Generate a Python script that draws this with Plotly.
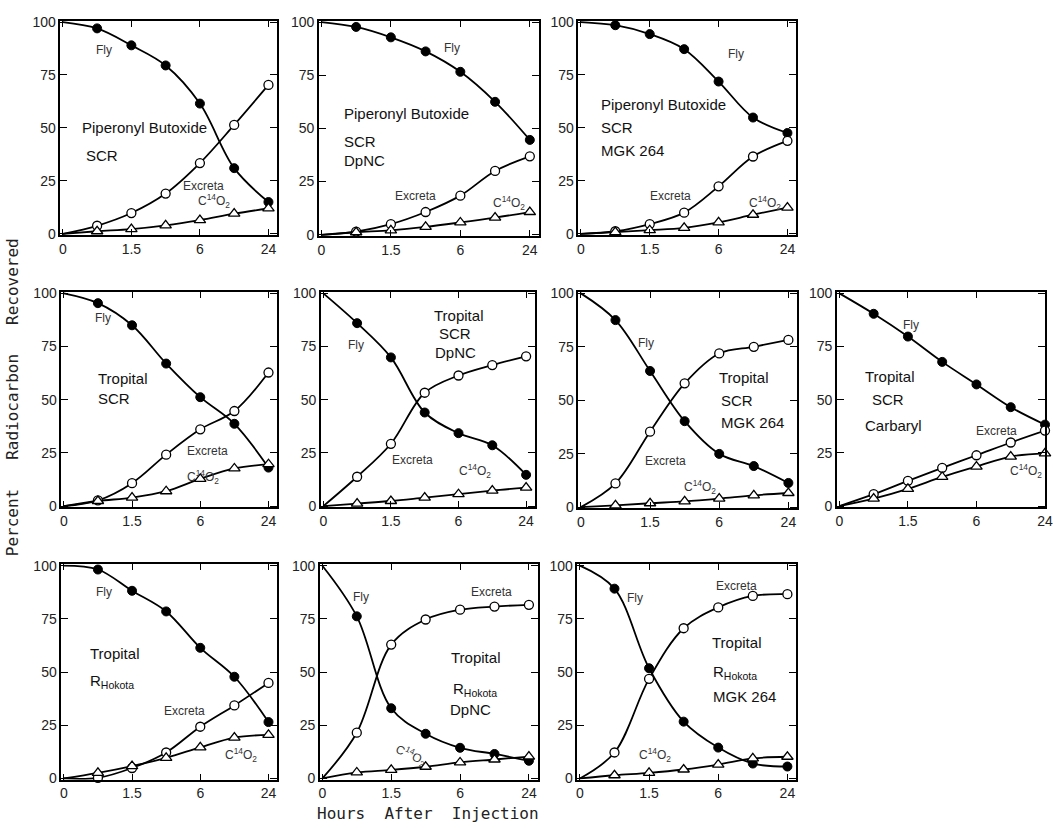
import plotly.graph_objects as go

# ---------------- data ----------------
hours = ["0", "0.75", "1.5", "3", "6", "12", "24"]
hour_tickvals = ["0", "1.5", "6", "24"]
hour_ticktext = ["0", "1.5", "6", "24"]
y_ticks = [0, 25, 50, 75, 100]

# Piperonyl Butoxide / SCR
fly_pb_scr = [100, 97, 89, 79.5, 61.5, 31, 15]
exc_pb_scr = [0, 3.8, 9.8, 19, 33.4, 51.4, 70.3]
co2_pb_scr = [0, 1.2, 2.2, 4, 6.5, 9.5, 12]
# Piperonyl Butoxide / SCR / DpNC
fly_pb_dpnc = [100, 97.7, 92.8, 86.2, 76.6, 62.5, 44.6]
exc_pb_dpnc = [0, 1.5, 5, 10.7, 18.4, 30, 36.9]
co2_pb_dpnc = [0, 1.2, 2.1, 3.7, 5.8, 8.1, 10.7]
# Piperonyl Butoxide / SCR / MGK 264
fly_pb_mgk = [100, 98.5, 94.3, 87.2, 71.9, 54.9, 47.6]
exc_pb_mgk = [0, 1.2, 4.6, 10, 22.4, 36.5, 43.9]
co2_pb_mgk = [0, 0.8, 1.7, 2.8, 5.4, 9, 12.4]
# Tropital / SCR
fly_tr_scr = [100, 95.4, 85, 67, 51.2, 38.7, 18.1]
exc_tr_scr = [0, 2.7, 10.8, 24.2, 36.1, 44.7, 62.8]
co2_tr_scr = [0, 2.4, 4, 7, 12.8, 17.7, 19.7]
# Tropital / SCR / DpNC
fly_tr_dpnc = [100, 86, 69.9, 44, 34.3, 28.6, 14.7]
exc_tr_dpnc = [0, 13.8, 29.3, 53.3, 61.4, 66.3, 70.4]
co2_tr_dpnc = [0, 1.2, 2.4, 4, 5.6, 7.3, 8.7]
# Tropital / SCR / MGK 264
fly_tr_mgk = [100, 87.5, 63.7, 40.2, 24.9, 19.2, 11.3]
exc_tr_mgk = [0, 11.1, 35.3, 57.9, 71.9, 75, 78.2]
co2_tr_mgk = [0, 0.8, 1.8, 2.7, 4, 5.5, 6.6]
# Tropital / SCR / Carbaryl
fly_tr_carb = [100, 90.4, 79.7, 67.8, 57.2, 46.5, 38.3]
exc_tr_carb = [0, 5.6, 11.9, 18, 23.9, 29.9, 35.5]
co2_tr_carb = [0, 3.5, 8.1, 13.7, 18.6, 23.3, 24.8]
# Tropital / R Hokota
fly_rh = [100, 98.2, 88.2, 78.5, 61.4, 47.8, 26.5]
exc_rh = [0, 0.3, 4.9, 12.2, 24.3, 34.3, 44.9]
co2_rh = [0, 2.6, 5.8, 9.7, 14.6, 19.2, 20.5]
# Tropital / R Hokota / DpNC
fly_rh_dpnc = [100, 76.2, 33, 21, 14.4, 11.5, 8.3]
exc_rh_dpnc = [0, 21.5, 62.9, 74.7, 79.3, 80.8, 81.6]
co2_rh_dpnc = [0, 2.8, 4, 5.5, 7.5, 8.9, 10.3]
# Tropital / R Hokota / MGK 264
fly_rh_mgk = [100, 89.2, 51.8, 26.7, 14.5, 7, 5.6]
exc_rh_mgk = [0, 12.2, 46.8, 70.6, 80.4, 85.8, 86.6]
co2_rh_mgk = [0, 1.5, 2.6, 4.2, 6.5, 9.4, 10.2]

series = [
    (fly_pb_scr, exc_pb_scr, co2_pb_scr),
    (fly_pb_dpnc, exc_pb_dpnc, co2_pb_dpnc),
    (fly_pb_mgk, exc_pb_mgk, co2_pb_mgk),
    (fly_tr_scr, exc_tr_scr, co2_tr_scr),
    (fly_tr_dpnc, exc_tr_dpnc, co2_tr_dpnc),
    (fly_tr_mgk, exc_tr_mgk, co2_tr_mgk),
    (fly_tr_carb, exc_tr_carb, co2_tr_carb),
    (fly_rh, exc_rh, co2_rh),
    (fly_rh_dpnc, exc_rh_dpnc, co2_rh_dpnc),
    (fly_rh_mgk, exc_rh_mgk, co2_rh_mgk),
]

CO2 = "C<sup>14</sup>O<sub>2</sub>"
RH = "R<sub>Hokota</sub>"
# labels: (text, x index, y value, kind, anchor, angle)
labels = [
    [("Fly", 1.2, 87, "s", "center", 0), ("Piperonyl Butoxide", 0.5, 50, "b", "left", 0),
     ("SCR", 0.63, 37, "b", "left", 0), ("Excreta", 4.1, 22.6, "s", "center", 0),
     (CO2, 4.4, 15.4, "s", "center", 0)],
    [("Fly", 3.76, 87.7, "s", "center", 0), ("Piperonyl Butoxide", 0.59, 57, "b", "left", 0),
     ("SCR", 0.59, 44, "b", "left", 0), ("DpNC", 0.59, 35, "b", "left", 0),
     ("Excreta", 2.7, 18, "s", "center", 0), (CO2, 5.4, 15, "s", "center", 0)],
    [("Fly", 4.5, 85, "s", "center", 0), ("Piperonyl Butoxide", 0.54, 61, "b", "left", 0),
     ("SCR", 0.54, 50, "b", "left", 0), ("MGK 264", 0.54, 39.4, "b", "left", 0),
     ("Excreta", 2.6, 17.8, "s", "center", 0), (CO2, 5.35, 14.7, "s", "center", 0)],
    [("Fly", 1.14, 88.6, "s", "center", 0), ("Tropital", 0.95, 60, "b", "left", 0),
     ("SCR", 0.95, 50.5, "b", "left", 0), ("Excreta", 4.2, 26, "s", "center", 0),
     (CO2, 4.08, 13.9, "s", "center", 0)],
    [("Fly", 0.97, 75.7, "s", "center", 0), ("Tropital", 4.0, 89.4, "b", "center", 0),
     ("SCR", 3.9, 81, "b", "center", 0), ("DpNC", 3.9, 72.3, "b", "center", 0),
     ("Excreta", 2.65, 21.7, "s", "center", 0), (CO2, 4.5, 16.4, "s", "center", 0)],
    [("Fly", 1.87, 76.8, "s", "center", 0), ("Tropital", 3.93, 60.8, "b", "left", 0),
     ("SCR", 3.98, 50, "b", "left", 0), ("MGK 264", 3.98, 39.7, "b", "left", 0),
     ("Excreta", 2.44, 21.8, "s", "center", 0), (CO2, 3.45, 9.3, "s", "center", 0)],
    [("Fly", 2.09, 85, "s", "center", 0), ("Tropital", 0.69, 60.7, "b", "left", 0),
     ("SCR", 0.88, 50, "b", "left", 0), ("Carbaryl", 0.69, 37.8, "b", "left", 0),
     ("Excreta", 4.59, 35.5, "s", "center", 0), (CO2, 5.98, 16.5, "s", "right", 0)],
    [("Fly", 1.19, 87.7, "s", "center", 0), ("Tropital", 0.71, 58.5, "b", "left", 0),
     (RH, 0.71, 45.4, "b", "left", 0), ("Excreta", 3.55, 31.5, "s", "center", 0),
     (CO2, 5.2, 10.8, "s", "center", 0)],
    [("Fly", 1.13, 85.4, "s", "center", 0), ("Excreta", 4.9, 87.7, "s", "center", 0),
     ("Tropital", 4.44, 57, "b", "center", 0), (RH, 4.44, 41.7, "b", "center", 0),
     ("DpNC", 4.3, 32.5, "b", "center", 0), (CO2, 2.57, 11, "s", "center", 25)],
    [("Fly", 1.6, 85, "s", "center", 0), ("Excreta", 4.53, 90.4, "s", "center", 0),
     ("Tropital", 3.76, 64, "b", "left", 0), (RH, 3.8, 50, "b", "left", 0),
     ("MGK 264", 3.8, 38.6, "b", "left", 0), (CO2, 2.17, 10.8, "s", "center", 0)],
]

# ---------------- layout geometry (pixels) ----------------
W, H = 1053, 828
boxes = [  # left, right, top, bottom
    (59, 278, 14, 232), (320, 542, 14, 233), (582, 802, 14, 232),
    (60, 278, 290, 509), (322, 538, 290, 509), (582, 803, 290, 510), (843, 1053, 290, 509),
    (60, 278, 567, 786), (321, 541, 567, 786), (581, 802, 567, 786),
]

fig = go.Figure()
tickfont = dict(family="Liberation Sans, Arial, sans-serif", size=14, color="#222")
annotations = []
layout = {}

for i, ((fly, exc, co2), box) in enumerate(zip(series, boxes)):
    n = i + 1
    xa = "x" if n == 1 else f"x{n}"
    ya = "y" if n == 1 else f"y{n}"
    for vals in (fly, exc, co2):
        fig.add_trace(go.Scatter(x=hours, y=vals, xaxis=xa, yaxis=ya, mode="lines",
                                 line=dict(color="black", width=1.8, shape="spline", smoothing=1.0),
                                 cliponaxis=False, hoverinfo="skip"))
    mstyles = [
        dict(symbol="circle", size=9, color="black", line=dict(color="black", width=1)),
        dict(symbol="circle", size=9, color="white", line=dict(color="black", width=1.3)),
        dict(symbol="triangle-up", size=10, color="white", line=dict(color="black", width=1.3)),
    ]
    for vals, ms in zip((fly, exc, co2), mstyles):
        fig.add_trace(go.Scatter(x=hours[1:], y=vals[1:], xaxis=xa, yaxis=ya, mode="markers",
                                 marker=ms, cliponaxis=False))
    l, r, t, b = box
    xr = [-0.07, 6.0] if n == 7 else [-0.07, 6.26]
    layout["xaxis" if n == 1 else f"xaxis{n}"] = dict(
        domain=[l / W, r / W], anchor=ya, type="category", categoryorder="array",
        categoryarray=hours, range=xr, tickmode="array", tickvals=hour_tickvals,
        ticktext=hour_ticktext,
        ticks="inside", ticklen=6, tickwidth=1.2, tickcolor="black",
        showline=True, linecolor="black", linewidth=1.8, mirror="ticks",
        showgrid=False, zeroline=False, tickfont=tickfont, fixedrange=True)
    layout["yaxis" if n == 1 else f"yaxis{n}"] = dict(
        domain=[1 - b / H, 1 - t / H], anchor=xa, range=[-0.6, 100.6],
        tickmode="array", tickvals=y_ticks, ticks="inside", ticklen=7, tickwidth=1.2,
        tickcolor="black", showline=True, linecolor="black", linewidth=1.8, mirror="ticks",
        showgrid=False, zeroline=False, tickfont=tickfont, fixedrange=True)
    for text, xv, yv, kind, anchor, ang in labels[i]:
        size = 15 if kind == "b" else 12
        color = "#111" if kind == "b" else "#333"
        annotations.append(dict(text=text, x=xv, y=yv, xref=xa, yref=ya, showarrow=False,
                                xanchor=anchor, yanchor="middle", textangle=ang,
                                font=dict(family="Liberation Sans, Arial, sans-serif",
                                          size=size, color=color)))

NB = "\u00a0"
annotations.append(dict(text=f"Percent{NB*3}Radiocarbon{NB*3}Recovered", x=10 / W, y=1 - 397 / H,
                        xref="paper", yref="paper", showarrow=False, textangle=-90,
                        xanchor="center", yanchor="middle",
                        font=dict(family="DejaVu Sans Mono, monospace", size=16, color="#222")))
annotations.append(dict(text=f"Hours{NB*2}After{NB*2}Injection", x=430 / W, y=1 - 820 / H,
                        xref="paper", yref="paper", showarrow=False,
                        xanchor="center", yanchor="middle",
                        font=dict(family="DejaVu Sans Mono, monospace", size=16, color="#222")))

fig.update_layout(width=W, height=H, margin=dict(l=0, r=0, t=0, b=0),
                  paper_bgcolor="white", plot_bgcolor="white", showlegend=False,
                  annotations=annotations, **layout)

fig.write_html("out.html")
